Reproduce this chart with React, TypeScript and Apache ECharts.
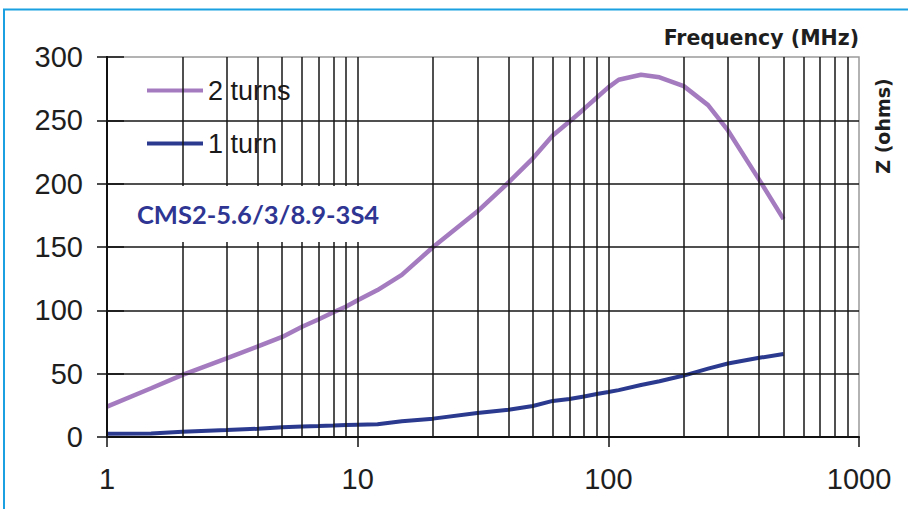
import React, { useEffect, useRef } from "react";
import * as echarts from "echarts";

const freqs = [1, 1.5, 2, 3, 4, 5, 6, 7, 8, 9, 10, 12, 15, 20, 30, 40, 50, 60, 70, 80, 90, 100, 110, 135, 160, 200, 250, 300, 400, 500];
const twoTurns = [24, 38.5, 49, 62, 71.5, 79, 87, 93, 98.5, 103, 108, 116, 128, 150, 178, 201, 220, 238, 249, 259, 268, 276, 282, 286, 284, 277, 262, 242, 203, 172];
const oneTurn = [2.5, 2.8, 4.2, 5.5, 6.5, 7.7, 8.2, 8.6, 9, 9.4, 9.7, 10, 12.5, 14.5, 19, 21.5, 24.5, 28.5, 30, 32, 34, 35.5, 37, 41, 44, 48.5, 54, 58, 62.5, 65.5];
const seriesNames = ["2 turns", "1 turn"];
const verticalGrid = [2, 3, 4, 5, 6, 7, 8, 9, 10, 20, 30, 40, 50, 60, 70, 80, 90, 100, 200, 300, 400, 500, 600, 700, 800, 900];
const horizontalGrid = [50, 100, 150, 200, 250];
const partLabel = "CMS2-5.6/3/8.9-3S4";
const xTitle = "Frequency (MHz)";
const yTitle = "Z (ohms)";

const GRID_COLOR = "#161616";
const LABEL_FONT = "'Liberation Sans', Arial, sans-serif";
const TITLE_FONT = "'DejaVu Sans', sans-serif";

export default function App() {
  const ref = useRef<HTMLDivElement>(null);
  useEffect(() => {
    document.body.style.margin = "0";
    const chart = echarts.init(ref.current!, null, { renderer: "svg" });
    const option: any = {
      animation: false,
      backgroundColor: "#ffffff",
      grid: {
        left: 107,
        right: 49,
        top: 57,
        bottom: 72,
        show: true,
        borderColor: "#9a9a9a",
        borderWidth: 1.5,
        backgroundColor: "transparent",
      },
      title: {
        text: partLabel,
        left: 108,
        top: 186,
        backgroundColor: "#ffffff",
        padding: [15, 24, 15, 29],
        textStyle: {
          color: "#2e3592",
          fontFamily: "Lato, 'Open Sans', sans-serif",
          fontWeight: "bold",
          fontSize: 25.5,
        },
      },
      legend: {
        data: seriesNames,
        orient: "vertical",
        left: 108,
        top: 64,
        backgroundColor: "#ffffff",
        padding: [13, 19, 19, 39],
        itemGap: 26,
        itemWidth: 56,
        itemHeight: 14,
        icon: "path://M0,0 L56,0 L56,4 L0,4 Z",
        textStyle: {
          fontFamily: LABEL_FONT,
          fontSize: 27,
          color: "#1a1a1a",
        },
      },
      xAxis: {
        type: "log",
        logBase: 10,
        min: 1,
        max: 1000,
        axisLine: { show: true, lineStyle: { color: "#111", width: 2 } },
        axisTick: { show: true, length: 10, lineStyle: { color: "#111", width: 1.5 } },
        axisLabel: {
          fontFamily: LABEL_FONT,
          fontSize: 29,
          color: "#1e1e1e",
          margin: 27,
          formatter: (v: number) => String(v),
        },
        splitLine: { show: false },
        minorTick: { show: false },
        minorSplitLine: { show: false },
      },
      yAxis: [
        {
          type: "value",
          min: 0,
          max: 300,
          interval: 50,
          axisLine: { show: true, lineStyle: { color: "#111", width: 2 } },
          axisTick: { show: true, length: 10, lineStyle: { color: "#111", width: 1.5 } },
          axisLabel: {
            fontFamily: LABEL_FONT,
            fontSize: 29,
            color: "#1e1e1e",
            margin: 24,
          },
          splitLine: { show: false },
        },
        {
          type: "value",
          position: "left",
          min: 0,
          max: 300,
          interval: 50,
          z: 10,
          axisLine: { show: true, onZero: false, lineStyle: { color: "#111", width: 2 } },
          axisTick: { show: true, inside: true, length: 17, lineStyle: { color: "#111", width: 1.5 } },
          axisLabel: { show: false },
          splitLine: { show: false },
        },
      ],
      graphic: [
        {
          type: "rect",
          shape: { x: 4, y: 9.5, width: 1000, height: 700 },
          style: { fill: "none", stroke: "#1ba1e2", lineWidth: 2 },
          silent: true,
        },
        {
          type: "text",
          right: 49,
          top: 27,
          style: {
            text: xTitle,
            fontFamily: TITLE_FONT,
            fontWeight: "bold",
            fontSize: 20.5,
            fill: "#1e1e1e",
          },
        },
        {
          type: "text",
          x: 883,
          y: 126,
          rotation: Math.PI / 2,
          style: {
            text: yTitle,
            fontFamily: TITLE_FONT,
            fontWeight: "bold",
            fontSize: 19,
            fill: "#1e1e1e",
            align: "center",
            verticalAlign: "middle",
          },
        },
      ],
      series: [
        {
          name: "grid",
          type: "line",
          data: [],
          z: 1,
          silent: true,
          markLine: {
            silent: true,
            symbol: ["none", "none"],
            label: { show: false },
            emphasis: { disabled: true },
            lineStyle: { color: GRID_COLOR, width: 1.5, type: "solid" },
            data: [
              ...verticalGrid.map((v) => ({ xAxis: v })),
              ...horizontalGrid.map((v) => ({ yAxis: v })),
            ],
          },
        },
        {
          name: seriesNames[0],
          type: "line",
          data: freqs.map((f, i) => [f, twoTurns[i]]),
          symbol: "none",
          z: 3,
          lineStyle: { color: "#a57bc0", width: 4.5 },
          itemStyle: { color: "#a57bc0" },
        },
        {
          name: seriesNames[1],
          type: "line",
          data: freqs.map((f, i) => [f, oneTurn[i]]),
          symbol: "none",
          z: 3,
          lineStyle: { color: "#2b3a8f", width: 4 },
          itemStyle: { color: "#2b3a8f" },
        },
      ],
    };
    chart.setOption(option);
    return () => chart.dispose();
  }, []);
  return <div ref={ref} style={{ width: 908, height: 509 }} />;
}
